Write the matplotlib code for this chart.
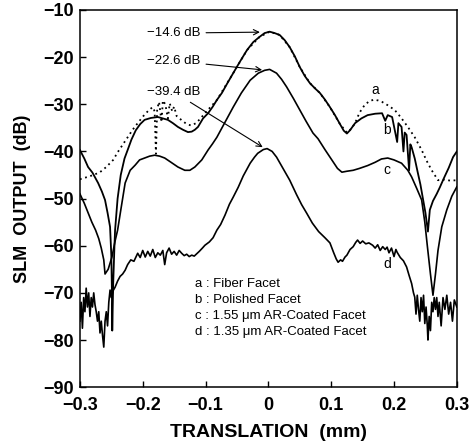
import matplotlib
matplotlib.use('Agg')
import matplotlib.pyplot as plt

# curve a : fiber facet (dotted)
a_x = [-0.300, -0.295, -0.285, -0.275, -0.268, -0.258, -0.247, -0.240, -0.232, -0.224,
       -0.216, -0.208, -0.199, -0.190, -0.184, -0.181, -0.179, -0.177, -0.174, -0.170,
       -0.168, -0.164, -0.160, -0.157, -0.153, -0.150, -0.146, -0.144, -0.137, -0.130,
       -0.123, -0.115, -0.108, -0.101, -0.082, -0.056, -0.034, -0.014, 0.002, 0.018,
       0.034, 0.050, 0.066, 0.082, 0.098, 0.114, 0.125, 0.132, 0.138, 0.145,
       0.153, 0.160, 0.168, 0.175, 0.181, 0.190, 0.201, 0.211, 0.222, 0.233,
       0.244, 0.252, 0.260, 0.270, 0.280, 0.290, 0.300]
a_y = [-45.9, -45.7, -45.3, -44.8, -44.4, -43.3, -41.8, -40.2, -38.6, -37.0,
       -35.4, -34.0, -32.5, -31.2, -30.6, -31.5, -40.5, -31.0, -29.5, -33.8,
       -29.2, -30.0, -33.0, -29.8, -31.5, -30.5, -32.5, -32.7, -33.5, -34.2,
       -34.5, -34.0, -33.0, -31.9, -29.1, -23.4, -18.5, -15.7, -14.6, -15.3,
       -17.9, -22.1, -25.5, -27.6, -30.6, -34.2, -36.0, -35.2, -34.0, -31.8,
       -30.2, -29.4, -29.0, -29.2, -29.5, -30.2, -31.2, -32.8, -34.8, -37.0,
       -39.7, -42.0, -44.0, -46.1, -46.0, -46.2, -46.1]

# curve b : polished facet
b_x = [-0.300, -0.293, -0.287, -0.280, -0.271, -0.265, -0.260, -0.256, -0.252, -0.250,
       -0.249, -0.2485, -0.247, -0.245, -0.244, -0.240, -0.235, -0.229, -0.224, -0.218,
       -0.211, -0.204, -0.197, -0.187, -0.176, -0.168, -0.160, -0.152, -0.144, -0.136,
       -0.128, -0.122, -0.117, -0.112, -0.104, -0.096, -0.089, -0.082, -0.074, -0.066,
       -0.056, -0.045, -0.034, -0.024, -0.014, -0.006, 0.002, 0.010, 0.018, 0.026,
       0.034, 0.042, 0.050, 0.058, 0.066, 0.074, 0.082, 0.090, 0.098, 0.106,
       0.114, 0.120, 0.125, 0.130, 0.138, 0.148, 0.158, 0.170, 0.181, 0.186,
       0.190, 0.197, 0.205, 0.207, 0.212, 0.215, 0.217, 0.220, 0.224, 0.226,
       0.228, 0.233, 0.238, 0.242, 0.246, 0.250, 0.254, 0.257, 0.262, 0.268,
       0.273, 0.280, 0.287, 0.294, 0.300]
b_y = [-39.7, -41.5, -43.3, -44.5, -46.7, -48.5, -50.3, -53.0, -56.0, -62.0,
       -70.0, -78.0, -68.0, -60.0, -56.7, -50.0, -45.0, -41.5, -39.7, -37.5,
       -35.5, -34.2, -33.3, -32.9, -32.7, -33.0, -33.3, -34.0, -34.8, -35.4,
       -35.9, -35.8, -35.4, -34.8, -33.0, -31.9, -30.6, -29.1, -27.6, -25.7,
       -23.4, -20.9, -18.5, -16.8, -15.7, -14.9, -14.6, -14.9, -15.3, -16.4,
       -17.9, -19.8, -22.1, -24.0, -25.5, -26.6, -27.6, -29.0, -30.6, -32.3,
       -34.2, -35.6, -36.2, -35.5, -34.0, -33.0, -32.3, -32.0, -31.9, -33.5,
       -32.3, -32.7, -38.0, -34.0, -34.8, -40.0, -36.0, -36.5, -44.0, -38.5,
       -39.1, -41.5, -44.6, -47.0, -50.0, -53.0, -57.0, -52.4, -50.5, -49.0,
       -47.6, -45.5, -43.5, -41.2, -40.0]

# curve c : 1.55 um AR-coated facet
c_x = [-0.300, -0.293, -0.287, -0.281, -0.275, -0.270, -0.266, -0.262, -0.260, -0.255,
       -0.249, -0.244, -0.240, -0.235, -0.228, -0.220, -0.212, -0.205, -0.197, -0.189,
       -0.181, -0.173, -0.165, -0.155, -0.144, -0.133, -0.125, -0.117, -0.106, -0.096,
       -0.089, -0.082, -0.069, -0.056, -0.043, -0.029, -0.016, -0.006, 0.002, 0.013,
       0.021, 0.029, 0.040, 0.050, 0.060, 0.071, 0.079, 0.090, 0.101, 0.110,
       0.117, 0.125, 0.135, 0.145, 0.158, 0.170, 0.180, 0.190, 0.200, 0.212,
       0.222, 0.228, 0.236, 0.244, 0.249, 0.253, 0.258, 0.262, 0.266, 0.270,
       0.276, 0.284, 0.292, 0.300]
c_y = [-49.0, -51.0, -53.0, -55.0, -56.7, -58.5, -60.5, -63.0, -66.0, -65.0,
       -62.4, -59.0, -56.7, -52.5, -46.7, -44.0, -42.9, -41.8, -41.4, -41.0,
       -40.8, -41.0, -41.4, -42.3, -43.3, -44.0, -44.0, -43.3, -41.8, -39.7,
       -38.4, -37.0, -33.8, -30.6, -27.6, -24.9, -23.4, -22.8, -22.6, -23.4,
       -24.7, -26.3, -28.8, -31.2, -33.6, -36.1, -37.3, -39.6, -41.8, -43.6,
       -44.4, -44.2, -44.0, -43.6, -43.0, -42.3, -41.6, -41.4, -41.8, -42.5,
       -44.0, -45.4, -47.8, -50.3, -55.0, -60.0, -66.0, -70.5, -66.0, -61.0,
       -56.0, -52.4, -49.5, -47.5]

# curve d : 1.35 um AR-coated facet
d_x = [-0.300, -0.298, -0.296, -0.294, -0.292, -0.290, -0.288, -0.286, -0.284, -0.282,
       -0.280, -0.278, -0.276, -0.274, -0.272, -0.270, -0.268, -0.266, -0.264, -0.262,
       -0.260, -0.258, -0.256, -0.254, -0.252, -0.250, -0.247, -0.244, -0.240, -0.236,
       -0.232, -0.228, -0.224, -0.219, -0.214, -0.208, -0.204, -0.200, -0.196, -0.192,
       -0.188, -0.184, -0.180, -0.176, -0.172, -0.168, -0.165, -0.162, -0.158, -0.154,
       -0.150, -0.146, -0.142, -0.138, -0.134, -0.130, -0.126, -0.122, -0.118, -0.114,
       -0.110, -0.105, -0.101, -0.094, -0.088, -0.082, -0.076, -0.069, -0.062, -0.056,
       -0.048, -0.040, -0.029, -0.022, -0.017, -0.008, -0.002, 0.006, 0.013, 0.022,
       0.034, 0.045, 0.053, 0.061, 0.070, 0.080, 0.090, 0.098, 0.104, 0.108,
       0.111, 0.115, 0.118, 0.122, 0.125, 0.130, 0.135, 0.139, 0.142, 0.146,
       0.150, 0.155, 0.160, 0.166, 0.170, 0.174, 0.178, 0.182, 0.186, 0.189,
       0.192, 0.196, 0.200, 0.203, 0.205, 0.210, 0.215, 0.220, 0.224, 0.228,
       0.231, 0.233, 0.235, 0.237, 0.239, 0.241, 0.243, 0.245, 0.247, 0.249,
       0.251, 0.253, 0.254, 0.256, 0.258, 0.260, 0.262, 0.264, 0.266, 0.268,
       0.270, 0.272, 0.275, 0.278, 0.281, 0.284, 0.287, 0.290, 0.293, 0.296,
       0.300]
d_y = [-76.0, -72.0, -77.5, -71.0, -74.0, -69.0, -73.0, -70.0, -75.0, -71.0,
       -73.0, -70.0, -72.5, -74.0, -76.0, -74.0, -78.5, -76.0, -79.0, -81.5,
       -76.0, -74.0, -77.0, -72.0, -69.4, -71.0, -69.5, -68.8, -67.5, -66.5,
       -66.0, -65.2, -64.0, -63.0, -63.3, -61.6, -62.5, -61.0, -62.4, -61.2,
       -62.2, -60.8, -62.5, -61.5, -62.0, -61.0, -64.0, -61.5, -60.5, -61.8,
       -61.2, -62.0, -61.0, -61.6, -62.1, -61.8, -62.3, -62.0, -62.2, -61.7,
       -61.2, -60.5, -59.9, -59.2, -58.3, -56.7, -55.5, -53.5, -51.2, -49.7,
       -47.6, -45.2, -42.5, -41.2, -40.4, -39.6, -39.4, -40.0, -41.2, -43.3,
       -46.1, -49.2, -51.3, -53.1, -55.2, -57.0, -58.3, -59.4, -61.5, -62.8,
       -63.5, -63.0, -63.3, -62.4, -62.0, -60.8, -60.2, -59.3, -58.8, -59.5,
       -59.0, -59.6, -59.4, -59.9, -60.5, -59.8, -61.0, -60.2, -60.8, -60.3,
       -61.5, -60.5, -62.3, -60.8, -61.4, -62.5, -63.2, -64.5, -66.3, -68.0,
       -70.0, -70.9, -74.5, -70.5, -73.5, -76.0, -71.0, -74.0, -70.5, -76.5,
       -73.0, -77.0, -80.0, -75.0, -78.0, -72.0, -74.0, -71.0, -73.5, -71.0,
       -75.0, -72.0, -77.0, -71.0, -73.5, -70.5, -74.5, -72.0, -76.0, -71.5,
       -73.0]

peak_labels = ['\u221214.6 dB', '\u221222.6 dB', '\u221239.4 dB']
legend_lines = ['a : Fiber Facet', 'b : Polished Facet',
                'c : 1.55 \u03bcm AR-Coated Facet', 'd : 1.35 \u03bcm AR-Coated Facet']
x_ticks = [-0.3, -0.2, -0.1, 0, 0.1, 0.2, 0.3]
x_ticklabels = ['\u22120.3', '\u22120.2', '\u22120.1', '0', '0.1', '0.2', '0.3']
y_ticks = [-90, -80, -70, -60, -50, -40, -30, -20, -10]

plt.rcParams['font.family'] = ['Liberation Sans', 'DejaVu Sans']

fig, ax = plt.subplots(figsize=(4.7, 4.44), dpi=100)
fig.subplots_adjust(left=0.170, right=0.972, top=0.9775, bottom=0.128)

ax.plot(a_x, a_y, color='black', lw=1.3, linestyle=(0, (1, 2)))
ax.plot(b_x, b_y, color='black', lw=1.3)
ax.plot(c_x, c_y, color='black', lw=1.2)
ax.plot(d_x, d_y, color='black', lw=1.2)

ax.set_xlim(-0.3, 0.3)
ax.set_ylim(-90, -10)
ax.set_xticks(x_ticks)
ax.set_xticklabels(x_ticklabels)
ax.set_yticks(y_ticks)
ax.tick_params(direction='in', length=4, width=1, labelsize=13)
ax.tick_params(axis='x', pad=7)
ax.tick_params(axis='y', pad=4)
for lab in ax.get_xticklabels() + ax.get_yticklabels():
    lab.set_fontweight('bold')
for sp in ax.spines.values():
    sp.set_linewidth(1.1)

ax.set_xlabel('TRANSLATION  (mm)', fontsize=14, fontweight='bold', labelpad=7)
ax.set_ylabel('SLM  OUTPUT  (dB)', fontsize=13, fontweight='bold', labelpad=9)

# peak annotations
ax.annotate(peak_labels[0], xy=(-0.0135, -14.7), xytext=(-0.108, -14.9),
            ha='right', va='center', fontsize=9.5,
            arrowprops=dict(arrowstyle='->', lw=0.8, color='black', shrinkA=2, shrinkB=0))
ax.annotate(peak_labels[1], xy=(-0.010, -22.7), xytext=(-0.108, -20.8),
            ha='right', va='center', fontsize=9.5,
            arrowprops=dict(arrowstyle='->', lw=0.8, color='black', shrinkA=2, shrinkB=0))
ax.annotate(peak_labels[2], xy=(-0.009, -39.1), xytext=(-0.108, -27.4),
            ha='right', va='center', fontsize=9.5,
            arrowprops=dict(arrowstyle='->', lw=0.8, color='black', shrinkA=2, shrinkB=0))

# curve letters
ax.text(0.170, -27.0, 'a', fontsize=10, ha='center', va='center')
ax.text(0.189, -35.5, 'b', fontsize=10, ha='center', va='center')
ax.text(0.189, -44.0, 'c', fontsize=10, ha='center', va='center')
ax.text(0.189, -63.9, 'd', fontsize=10, ha='center', va='center')

# key
for i, s in enumerate(legend_lines):
    ax.text(-0.117, -68.2 - 3.4 * i, s, fontsize=9.5, ha='left', va='center')

plt.savefig('out.png', dpi=100)
